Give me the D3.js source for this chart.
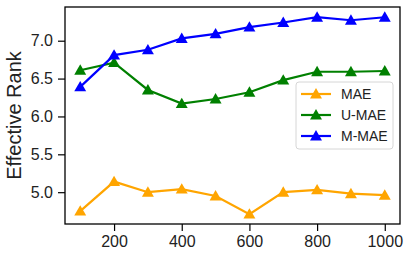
<!DOCTYPE html>
<html>
<head>
<meta charset="utf-8">
<script src="https://cdn.jsdelivr.net/npm/d3@7"></script>
<style>
  body { margin: 0; background: #fff; }
  svg text { font-family: "Liberation Sans", Arial, sans-serif; fill: #222; }
</style>
</head>
<body>
<div id="chart"></div>
<script>
(function () {
  // data
  const steps = [100, 200, 300, 400, 500, 600, 700, 800, 900, 1000];
  const maeVals = [4.75, 5.14, 5.00, 5.04, 4.95, 4.71, 5.00, 5.03, 4.98, 4.96];
  const umaeVals = [6.61, 6.71, 6.35, 6.17, 6.23, 6.32, 6.48, 6.59, 6.59, 6.60];
  const mmaeVals = [6.39, 6.81, 6.88, 7.03, 7.09, 7.18, 7.24, 7.31, 7.27, 7.31];
  const xTicks = [200, 400, 600, 800, 1000];
  const yTicks = [5.0, 5.5, 6.0, 6.5, 7.0];

  const series = [
    { name: 'MAE', values: maeVals, color: '#ffa500' },
    { name: 'U-MAE', values: umaeVals, color: '#008000' },
    { name: 'M-MAE', values: mmaeVals, color: '#0000ff' }
  ];

  const width = 410, height = 259;
  const left = 65, top = 7, right = 400, bottom = 224;

  const x = d3.scaleLinear().domain([55, 1045]).range([left, right]);
  const y = d3.scaleLinear().domain([4.58, 7.445]).range([bottom, top]);

  const svg = d3.select('#chart').append('svg')
    .attr('width', width)
    .attr('height', height);

  // axes
  const xAxis = svg.append('g')
    .attr('transform', 'translate(0,' + bottom + ')')
    .call(d3.axisBottom(x).tickValues(xTicks).tickFormat(d3.format('d')).tickSize(7).tickPadding(5));
  const yAxis = svg.append('g')
    .attr('transform', 'translate(' + left + ',0)')
    .call(d3.axisLeft(y).tickValues(yTicks).tickFormat(d3.format('.1f')).tickSize(7).tickPadding(5));

  [xAxis, yAxis].forEach(function (ax) {
    ax.select('.domain').remove();
    ax.selectAll('line').attr('stroke', '#000').attr('stroke-width', 1.2);
    ax.selectAll('text').style('font-size', '16px').attr('fill', '#222');
  });

  // frame
  svg.append('rect')
    .attr('x', left).attr('y', top)
    .attr('width', right - left).attr('height', bottom - top)
    .attr('fill', 'none').attr('stroke', '#000').attr('stroke-width', 1.3);

  svg.append('text')
    .attr('transform', 'translate(21,' + ((top + bottom) / 2) + ') rotate(-90)')
    .attr('text-anchor', 'middle')
    .style('font-size', '20px')
    .text('Effective Rank');

  const line = d3.line()
    .x(function (d, i) { return x(steps[i]); })
    .y(function (d) { return y(d); });

  const tri = d3.symbol().type(d3.symbolTriangle).size(62);

  series.forEach(function (s) {
    svg.append('path')
      .datum(s.values)
      .attr('d', line)
      .attr('fill', 'none')
      .attr('stroke', s.color)
      .attr('stroke-width', 2.2);

    svg.selectAll(null)
      .data(s.values)
      .enter().append('path')
      .attr('d', tri)
      .attr('transform', function (d, i) {
        return 'translate(' + x(steps[i]) + ',' + (y(d) + 1) + ')';
      })
      .attr('fill', s.color);
  });

  // legend
  const legend = svg.append('g');
  legend.append('rect')
    .attr('x', 296).attr('y', 82)
    .attr('width', 97).attr('height', 67)
    .attr('rx', 3)
    .attr('fill', 'rgba(255,255,255,0.8)')
    .attr('stroke', '#d6d6d6').attr('stroke-width', 1);

  series.forEach(function (s, i) {
    const ly = 94 + i * 21;
    legend.append('line')
      .attr('x1', 301).attr('x2', 331)
      .attr('y1', ly).attr('y2', ly)
      .attr('stroke', s.color).attr('stroke-width', 2.2);
    legend.append('path')
      .attr('d', tri)
      .attr('transform', 'translate(316,' + (ly + 1) + ')')
      .attr('fill', s.color);
    legend.append('text')
      .attr('x', 341).attr('y', ly + 5)
      .style('font-size', '14px')
      .text(s.name);
  });
})();
</script>
</body>
</html>
